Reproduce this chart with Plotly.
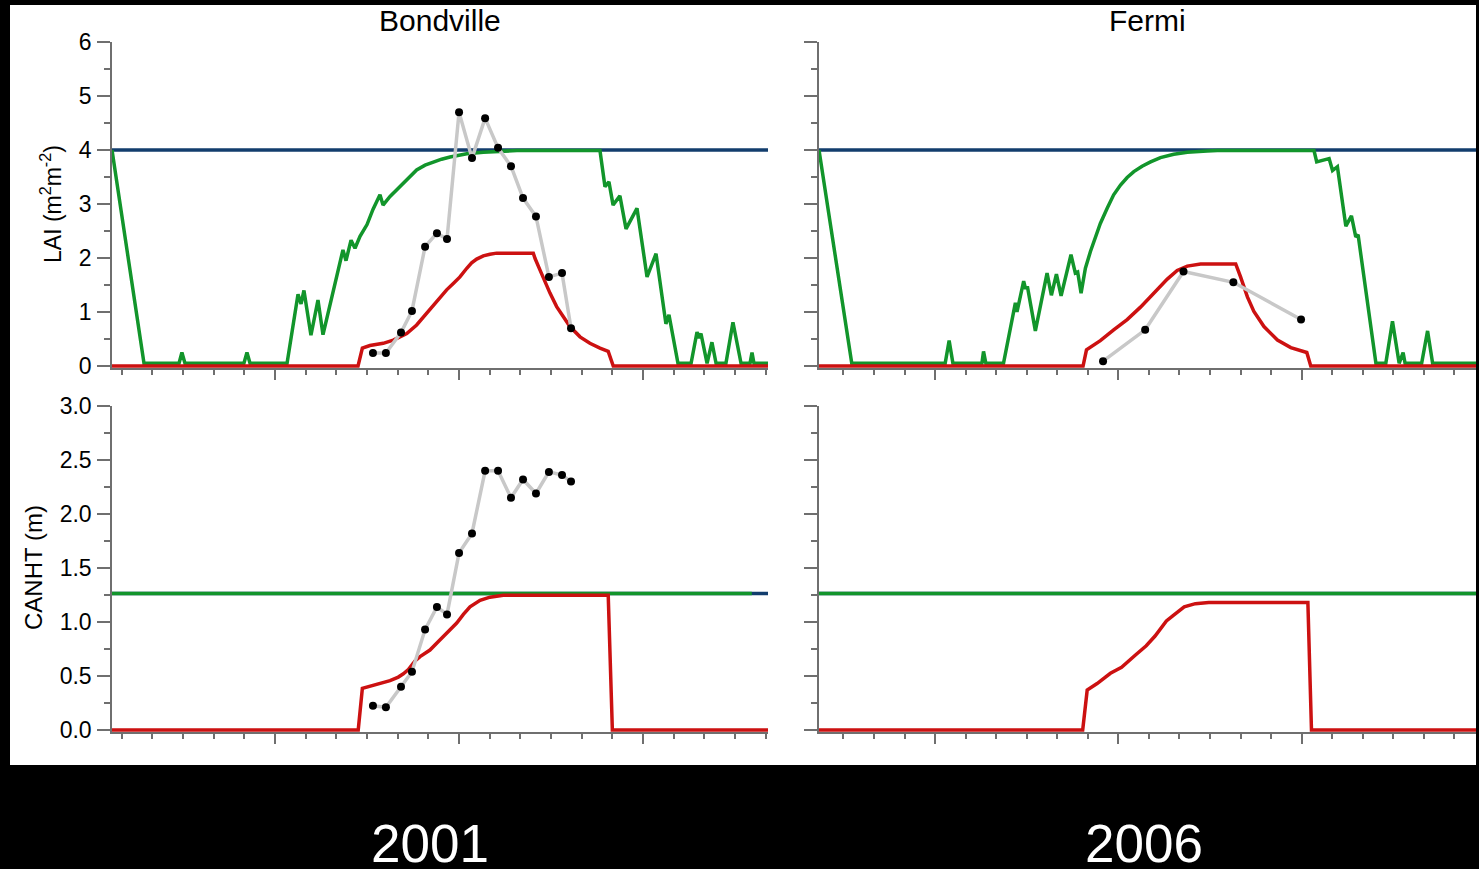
import plotly.graph_objects as go

W, H = 1479, 869

# ---------------- Bondville, 2001 ----------------
bv_lai_green_day = [0, 17.8, 37.3, 38.9, 40.6, 73.4, 75.1, 76.8, 97.4, 103.5, 105.2, 106.8,
                    110.7, 114.6, 117.4, 123.0, 128.5, 130.2, 133.0, 135.2, 138.0, 141.9,
                    145.2, 149.1, 150.8, 154.7, 160.2, 164.9, 169.5, 174.2, 178.8, 183.4,
                    188.1, 197.4, 206.6, 215.9, 225.3, 271.5,
                    274.3, 276.5, 278.8, 282.6, 286.0, 292.1, 297.7, 302.7, 308.2, 309.9,
                    314.9, 322.2, 325.5, 326.6, 327.7, 331.1, 333.8, 336.1, 341.6, 345.5,
                    350.0, 355.0, 356.1, 357.2, 365.0]
bv_lai_green = [4.0, 0.05, 0.05, 0.25, 0.05, 0.05, 0.25, 0.05, 0.05, 1.33, 1.15, 1.40,
                0.57, 1.22, 0.58, 1.40, 2.15, 1.95, 2.33, 2.18, 2.40, 2.62,
                2.90, 3.17, 2.98, 3.14, 3.32, 3.48, 3.63, 3.72, 3.78, 3.83,
                3.87, 3.93, 3.96, 3.98, 3.99, 3.99,
                3.32, 3.41, 2.98, 3.15, 2.54, 2.92, 1.65, 2.08, 0.78, 0.95,
                0.05, 0.05, 0.63, 0.52, 0.60, 0.05, 0.44, 0.05, 0.05, 0.81,
                0.05, 0.05, 0.25, 0.05, 0.05]

bv_lai_red_day = [0, 136.9, 139.3, 143.5, 150.9, 156.5, 160.2, 164.0, 169.5, 175.1, 180.7,
                  186.2, 189.9, 193.6, 197.4, 200.1, 202.9, 206.6, 210.3, 214.0, 234.4,
                  235.4, 238.1, 240.9, 243.7, 247.4, 251.1, 254.8, 260.4, 265.9, 271.5,
                  276.1, 278.9, 365]
bv_lai_red = [0, 0, 0.33, 0.38, 0.42, 0.48, 0.54, 0.60, 0.76, 0.98, 1.19,
              1.41, 1.53, 1.65, 1.81, 1.91, 1.98, 2.04, 2.07, 2.09, 2.09,
              1.99, 1.78, 1.56, 1.35, 1.10, 0.90, 0.73, 0.54, 0.42, 0.33,
              0.27, 0, 0]

bv_obs_day = [145.2, 152.4, 160.8, 166.9, 174.2, 180.8, 186.4, 193.1, 200.3, 207.6,
              214.8, 222.0, 228.7, 235.9, 243.1, 250.4, 255.4]
bv_lai_obs = [0.24, 0.24, 0.62, 1.02, 2.21, 2.46, 2.35, 4.70, 3.85, 4.59,
              4.04, 3.70, 3.11, 2.77, 1.65, 1.72, 0.70]
bv_canht_obs = [0.225, 0.21, 0.40, 0.54, 0.93, 1.14, 1.07, 1.64, 1.82, 2.40,
                2.40, 2.15, 2.32, 2.19, 2.39, 2.36, 2.30]

bv_canht_red_day = [0, 137.0, 139.3, 143.5, 149.1, 154.7, 159.3, 162.1, 164.9, 168.6, 171.4,
                    176.9, 181.6, 186.2, 191.8, 195.5, 199.2, 204.8, 210.3, 217.7, 276.1,
                    278.4, 365]
bv_canht_red = [0, 0, 0.386, 0.407, 0.43, 0.457, 0.49, 0.52, 0.56, 0.64, 0.68,
                0.74, 0.82, 0.90, 0.99, 1.07, 1.14, 1.20, 1.23, 1.247, 1.247,
                0, 0]
bv_canht_green_day = [0, 356]

# ---------------- Fermi, 2006 ----------------
fm_lai_green_day = [0, 18.2, 70.1, 72.3, 74.4, 90.5, 91.4, 92.7, 102.5, 109.1, 110.0,
                    113.7, 114.6, 115.9, 120.2, 126.7, 129.1, 131.9, 134.5, 140.0, 142.4,
                    143.7, 145.6, 148.0, 150.8, 153.6, 156.3, 160.1, 163.7, 167.5, 171.2,
                    174.9, 179.5, 184.2, 189.7, 197.1, 204.6, 215.7, 221.3,
                    275.0, 276.5, 283.4, 285.3, 288.0, 292.7, 295.8, 298.2, 299.5, 309.4,
                    314.9, 318.6, 322.3, 324.5, 325.6, 334.8, 338.1, 340.9, 365.5]
fm_lai_green = [4.0, 0.05, 0.05, 0.47, 0.05, 0.05, 0.27, 0.05, 0.05, 1.17, 1.0,
                1.57, 1.45, 1.45, 0.65, 1.72, 1.31, 1.70, 1.30, 2.06, 1.72,
                1.74, 1.35, 1.81, 2.12, 2.38, 2.64, 2.92, 3.17, 3.35, 3.49,
                3.60, 3.70, 3.78, 3.86, 3.92, 3.96, 3.98, 3.99,
                3.99, 3.78, 3.84, 3.62, 3.69, 2.59, 2.78, 2.39, 2.43, 0.05,
                0.05, 0.83, 0.05, 0.25, 0.05, 0.05, 0.65, 0.05, 0.05]

fm_lai_red_day = [0, 146.7, 148.6, 156.3, 163.7, 171.2, 178.6, 186.0, 193.5, 199.0, 204.6,
                  212.0, 231.5, 234.2, 238.0, 241.6, 247.2, 254.7, 262.1, 271.0, 273.2, 365]
fm_lai_red = [0, 0, 0.30, 0.47, 0.67, 0.86, 1.09, 1.35, 1.61, 1.77, 1.85,
              1.89, 1.89, 1.65, 1.28, 1.01, 0.73, 0.48, 0.34, 0.25, 0, 0]

fm_obs_day = [157.8, 181.2, 202.5, 230.2, 267.8]
fm_lai_obs = [0.09, 0.67, 1.75, 1.55, 0.86]

fm_canht_red_day = [0, 146.5, 149.0, 154.5, 161.9, 168.1, 175.5, 181.8, 186.7, 193.0, 196.7,
                    202.9, 209.1, 216.5, 271.6, 273.6, 365]
fm_canht_red = [0, 0, 0.37, 0.43, 0.525, 0.58, 0.69, 0.78, 0.87, 1.01, 1.06,
                1.14, 1.17, 1.18, 1.18, 0, 0]
fm_canht_green_day = [0, 365]

# Reference levels shared by both sites
lai_max = 4.0
canht_max = 1.265
full_year = [0, 365]

GREEN = "#12952b"
RED = "#cc1111"
BLUE = "#123d6d"
GREY = "#c8c8c8"
AXIS = "#6f6f6f"
FONT = "Liberation Sans, Arial, Helvetica, sans-serif"
LW = 3.5


def fx(px):
    return px / W


def fy(py):
    return 1 - py / H


fig = go.Figure()


def line(x, y, color, ax, ay):
    fig.add_trace(go.Scatter(x=x, y=y, mode="lines", line=dict(color=color, width=LW),
                             xaxis=ax, yaxis=ay, showlegend=False, hoverinfo="skip"))


def obs(x, y, ax, ay):
    fig.add_trace(go.Scatter(x=x, y=y, mode="lines+markers",
                             line=dict(color=GREY, width=LW),
                             marker=dict(color="black", size=8),
                             xaxis=ax, yaxis=ay, showlegend=False, cliponaxis=False))


# LAI, Bondville
line(full_year, [lai_max] * 2, BLUE, "x", "y")
line(bv_lai_green_day, bv_lai_green, GREEN, "x", "y")
line(bv_lai_red_day, bv_lai_red, RED, "x", "y")
obs(bv_obs_day, bv_lai_obs, "x", "y")
# LAI, Fermi
line(full_year, [lai_max] * 2, BLUE, "x2", "y2")
line(fm_lai_green_day, fm_lai_green, GREEN, "x2", "y2")
line(fm_lai_red_day, fm_lai_red, RED, "x2", "y2")
obs(fm_obs_day, fm_lai_obs, "x2", "y2")
# Canopy height, Bondville
line(full_year, [canht_max] * 2, BLUE, "x3", "y3")
line(bv_canht_green_day, [canht_max] * 2, GREEN, "x3", "y3")
line(bv_canht_red_day, bv_canht_red, RED, "x3", "y3")
obs(bv_obs_day, bv_canht_obs, "x3", "y3")
# Canopy height, Fermi
line(full_year, [canht_max] * 2, BLUE, "x4", "y4")
line(fm_canht_green_day, [canht_max] * 2, GREEN, "x4", "y4")
line(fm_canht_red_day, fm_canht_red, RED, "x4", "y4")


def xax(left, right, anchor, tick0, dtick):
    return dict(domain=[fx(left), fx(right)], range=[0, 365], anchor=anchor, automargin=False,
                showgrid=False, zeroline=False, showline=True, linecolor=AXIS, linewidth=1.5,
                ticks="outside", ticklen=10, tickwidth=1.5, tickcolor=AXIS,
                tick0=tick0, dtick=dtick, showticklabels=False,
                minor=dict(ticks="outside", tick0=tick0, dtick=dtick / 6, ticklen=5,
                           tickwidth=1.5, tickcolor=AXIS))


def yax(top, zero, per_unit, lo, hi, major, minor, anchor, labels, fmt):
    return dict(domain=[fy(zero - lo * per_unit), fy(top)], range=[lo, hi], anchor=anchor,
                automargin=False,
                showgrid=False, zeroline=False, showline=True, linecolor=AXIS, linewidth=1.5,
                ticks="outside", ticklen=13, tickwidth=1.5, tickcolor=AXIS,
                tick0=0, dtick=major, tickformat=fmt, showticklabels=labels,
                tickfont=dict(family=FONT, size=23, color="black"), ticklabelstandoff=1,
                minor=dict(ticks="outside", tick0=0, dtick=minor, ticklen=6,
                           tickwidth=1.5, tickcolor=AXIS))


fig.update_layout(
    template="none",
    width=W, height=H, margin=dict(l=0, r=0, t=0, b=0, pad=0, autoexpand=False),
    paper_bgcolor="black", plot_bgcolor="rgba(0,0,0,0)",
    xaxis=xax(112, 768, "y", 90.7, 102.4),
    xaxis2=xax(819, 1476, "y2", 64.5, 101.8),
    xaxis3=xax(112, 768, "y3", 90.7, 102.4),
    xaxis4=xax(819, 1476, "y4", 64.5, 101.8),
    yaxis=yax(42, 366, 54, -0.04, 6, 1, 0.5, "x", True, "d"),
    yaxis2=yax(42, 366, 54, -0.04, 6, 1, 0.5, "x2", False, "d"),
    yaxis3=yax(406, 730, 108, -0.02, 3, 0.5, 0.25, "x3", True, ".1f"),
    yaxis4=yax(406, 730, 108, -0.02, 3, 0.5, 0.25, "x4", False, ".1f"),
    shapes=[dict(type="rect", xref="paper", yref="paper", layer="below",
                 x0=fx(10), x1=fx(1476), y0=fy(765), y1=fy(5),
                 fillcolor="white", line=dict(width=0))],
)


def label(text, px, py, size, color="black", angle=0):
    fig.add_annotation(text=text, x=fx(px), y=fy(py), xref="paper", yref="paper",
                       showarrow=False, textangle=angle, xanchor="center", yanchor="middle",
                       font=dict(family=FONT, size=size, color=color))


label("Bondville", 440, 20, 30)
label("Fermi", 1147, 20, 30)
label("LAI (m<sup>2</sup>m<sup>-2</sup>)", 51, 204, 23, angle=-90)
label("CANHT (m)", 33, 568, 24, angle=-90)
label("2001", 430, 843, 53, color="white")
label("2006", 1144, 843, 53, color="white")

fig.write_html("out.html")
